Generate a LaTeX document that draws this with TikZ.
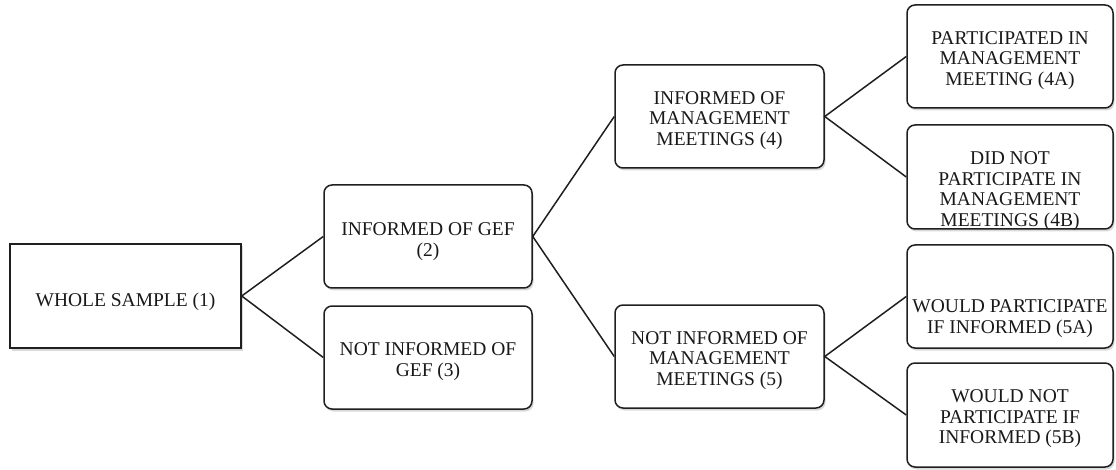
\documentclass[tikz,border=0pt]{standalone}
\usepackage{fontspec}
\setmainfont{Liberation Serif}
\usepackage{tikz}
\usetikzlibrary{shadows}
\tikzset{
	decbox/.style={draw=black!88, line width=1.5pt, fill=white, rounded corners=8pt,
		minimum width=206pt, minimum height=103pt, inner sep=0pt,
		drop shadow={shadow xshift=1.5pt, shadow yshift=-2.5pt, opacity=0.3}},
	samplebox/.style={decbox, sharp corners, minimum width=231pt, minimum height=104pt},
	txt/.style={align=center, text=black!90, font=\fontsize{19.5}{20.5}\selectfont, inner sep=0pt},
	link/.style={draw=black!88, line width=1.5pt}
}

\begin{document}
\begin{tikzpicture}[x=1pt, y=-1pt]
			%%%%% START %%%%%
			\useasboundingbox (0, 0) rectangle (1116, 470);
			
			\node[samplebox, label={[txt, yshift=-6pt]center:{WHOLE SAMPLE (1)}}] (whole) at (125.5, 296) {};
			
			\node[decbox, minimum width=208pt, label={[txt, yshift=-5pt]center:{INFORMED OF GEF\\(2)}}] (gef) at (428, 236.5) {};
			\node[decbox, minimum width=208pt, label={[txt, yshift=-4pt]center:{NOT INFORMED OF\\GEF (3)}}] (notgef) at (428, 357.5) {};
			
			\node[decbox, minimum width=209pt, label={[txt, yshift=-4pt]center:{INFORMED OF\\MANAGEMENT\\MEETINGS (4)}}] (meet) at (719.5, 116.5) {};
			\node[decbox, minimum width=209pt, label={[txt, yshift=-4pt]center:{NOT INFORMED OF\\MANAGEMENT\\MEETINGS (5)}}] (notmeet) at (719.5, 356.5) {};
			
			\node[decbox, label={[txt, yshift=-4pt]center:{PARTICIPATED IN\\MANAGEMENT\\MEETING (4A)}}] (partic) at (1010, 56.5) {};
			\node[decbox, minimum height=104pt, label={[txt, yshift=-14pt]center:{DID NOT\\PARTICIPATE IN\\MANAGEMENT\\MEETINGS (4B)}}] (nopartic) at (1010, 177) {};
			\node[decbox, label={[txt, yshift=-22pt]center:{WOULD PARTICIPATE\\IF INFORMED (5A)}}] (would) at (1010, 296.5) {};
			\node[decbox, minimum height=104pt, label={[txt, yshift=-4pt]center:{WOULD NOT\\PARTICIPATE IF\\INFORMED (5B)}}] (wouldnot) at (1010, 415) {};
			
			\draw[link] (gef.west) -- (whole.east) -- (notgef.west);
			\draw[link] (meet.west) -- (gef.east) -- (notmeet.west);
			\draw[link] (partic.west) -- (meet.east) -- (nopartic.west);
			\draw[link] (would.west) -- (notmeet.east) -- (wouldnot.west);
			
			%%%%% END %%%%%
\end{tikzpicture}
\end{document}
